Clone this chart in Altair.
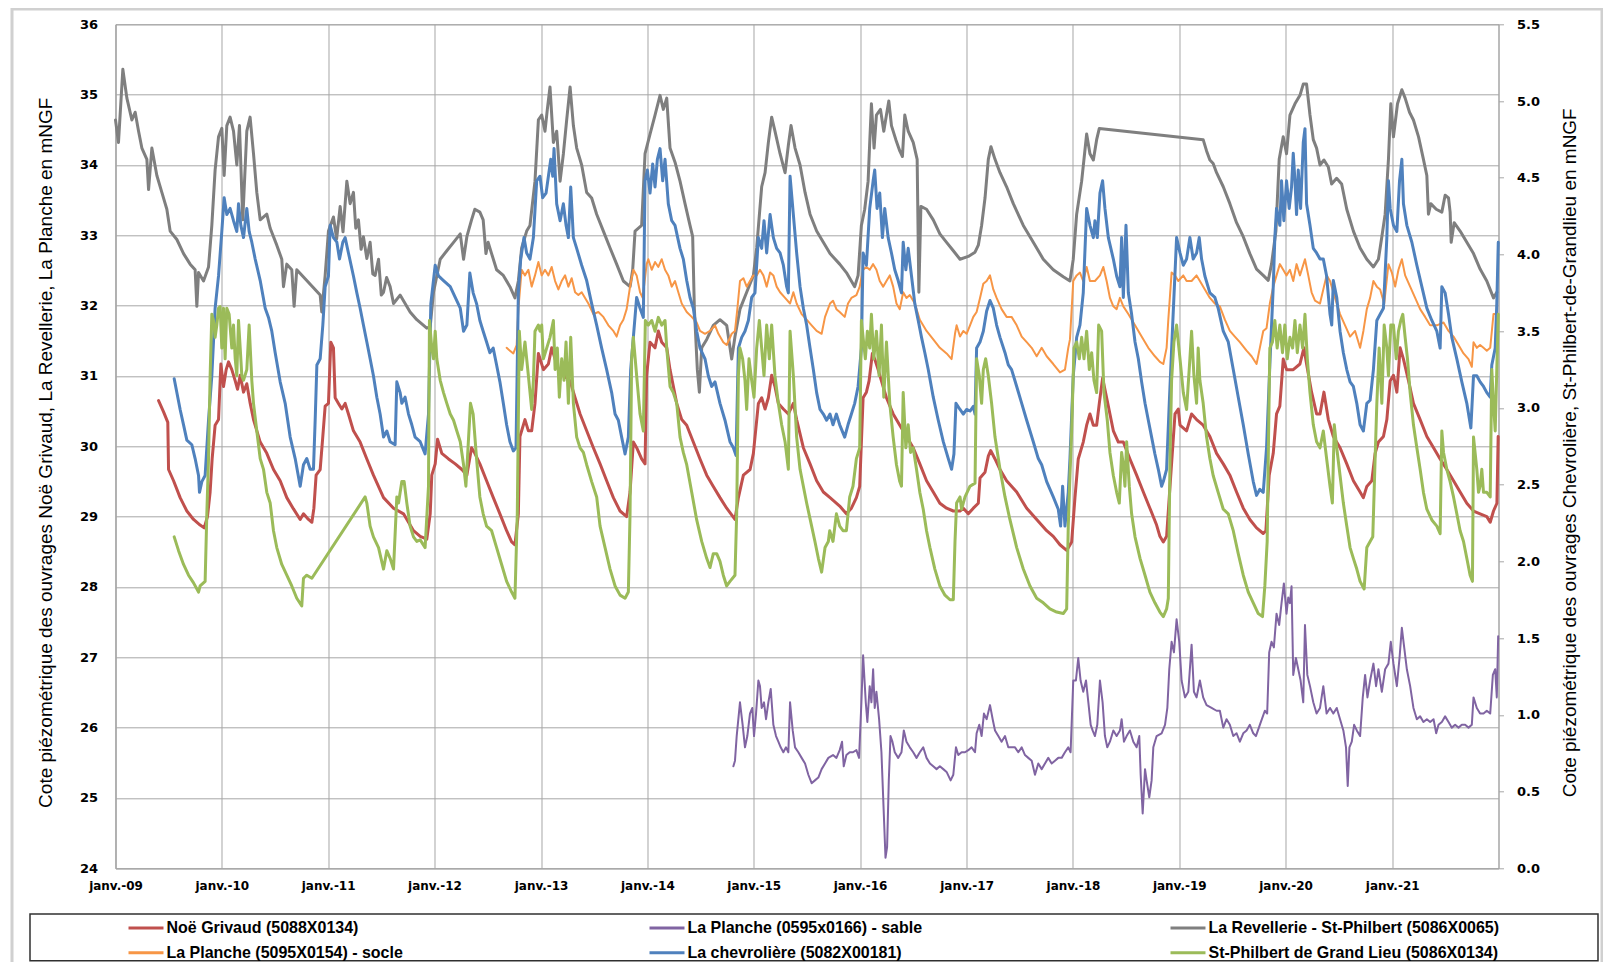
import altair as alt
import pandas as pd
import numpy as np

# ---------------- data (decimal year, level) ----------------
NAMES = ["Noë Grivaud (5088X0134)", "La Planche (0595x0166) - sable",
         "La Revellerie - St-Philbert (5086X0065)", "La Planche (5095X0154) - socle",
         "La chevrolière (5082X00181)", "St-Philbert de Grand Lieu (5086X0134)"]
COLORS = ["#C0504D", "#8064A2", "#7F7F7F", "#F79646", "#4F81BD", "#9BBB59"]

LEFT_TITLE = "Cote piézométrique des ouvrages Noë Grivaud, La Revellerie, La Planche en mNGF"
RIGHT_TITLE = "Cote piézométrique des ouvrages Chevrolière, St-Philbert-de-Grandlieu en mNGF"

LEFT_TICKS = list(range(24, 37))
RIGHT_TICKS = [i * 0.5 for i in range(12)]
YEARS = list(range(2009, 2023))

red = [
    (2009.405, 30.65), (2009.452, 30.49), (2009.492, 30.34), (2009.499, 29.67), (2009.546, 29.51),
    (2009.608, 29.27), (2009.671, 29.08), (2009.734, 28.96), (2009.796, 28.88), (2009.834, 28.84),
    (2009.865, 29.00), (2009.890, 29.35), (2009.909, 29.82), (2009.937, 30.30), (2009.969, 30.38),
    (2009.991, 31.17), (2010.016, 30.85), (2010.041, 31.09), (2010.063, 31.20), (2010.094, 31.09),
    (2010.126, 30.93), (2010.148, 30.81), (2010.173, 31.01), (2010.204, 30.77), (2010.235, 30.89),
    (2010.267, 30.61), (2010.298, 30.38), (2010.361, 30.06), (2010.423, 29.90), (2010.486, 29.67),
    (2010.549, 29.51), (2010.611, 29.27), (2010.674, 29.11), (2010.737, 28.96), (2010.768, 29.04),
    (2010.815, 28.96), (2010.847, 28.92), (2010.866, 29.12), (2010.887, 29.59), (2010.925, 29.67),
    (2010.950, 30.14), (2010.972, 30.57), (2011.003, 30.61), (2011.025, 31.48), (2011.050, 31.40),
    (2011.066, 30.69), (2011.097, 30.61), (2011.129, 30.53), (2011.160, 30.61), (2011.191, 30.46),
    (2011.238, 30.22), (2011.301, 30.06), (2011.364, 29.82), (2011.426, 29.59), (2011.521, 29.27),
    (2011.615, 29.12), (2011.709, 29.04), (2011.803, 28.80), (2011.866, 28.72), (2011.928, 28.68),
    (2011.960, 29.04), (2011.975, 29.59), (2012.007, 29.75), (2012.029, 30.10), (2012.069, 29.90),
    (2012.132, 29.82), (2012.195, 29.75), (2012.257, 29.67), (2012.304, 29.59), (2012.348, 29.98),
    (2012.379, 29.90), (2012.426, 29.75), (2012.489, 29.51), (2012.552, 29.27), (2012.614, 29.04),
    (2012.677, 28.80), (2012.724, 28.64), (2012.755, 28.60), (2012.787, 29.04), (2012.802, 30.14),
    (2012.849, 30.38), (2012.881, 30.22), (2012.912, 30.22), (2012.943, 30.61), (2012.975, 31.32),
    (2013.022, 31.09), (2013.069, 31.17), (2013.100, 31.40), (2013.132, 31.24), (2013.163, 31.09),
    (2013.210, 31.01), (2013.273, 30.93), (2013.320, 30.69), (2013.367, 30.46), (2013.429, 30.22),
    (2013.492, 29.98), (2013.555, 29.75), (2013.617, 29.51), (2013.680, 29.27), (2013.743, 29.08),
    (2013.805, 29.00), (2013.837, 29.35), (2013.868, 30.06), (2013.899, 29.98), (2013.946, 29.82),
    (2013.978, 29.75), (2013.993, 31.01), (2014.025, 31.48), (2014.072, 31.40), (2014.103, 31.64),
    (2014.135, 31.48), (2014.182, 31.40), (2014.213, 31.09), (2014.276, 30.61), (2014.323, 30.38),
    (2014.370, 30.30), (2014.432, 30.06), (2014.495, 29.82), (2014.558, 29.59), (2014.620, 29.43),
    (2014.683, 29.27), (2014.746, 29.12), (2014.824, 28.96), (2014.856, 29.27), (2014.903, 29.59),
    (2014.966, 29.67), (2014.997, 29.90), (2015.044, 30.61), (2015.075, 30.69), (2015.107, 30.53),
    (2015.138, 30.69), (2015.169, 31.01), (2015.200, 30.85), (2015.232, 30.61), (2015.279, 30.53),
    (2015.326, 30.46), (2015.373, 30.61), (2015.404, 30.38), (2015.467, 29.98), (2015.530, 29.75),
    (2015.592, 29.51), (2015.655, 29.35), (2015.718, 29.27), (2015.809, 29.15), (2015.872, 29.04),
    (2015.919, 29.12), (2015.966, 29.27), (2015.997, 29.43), (2016.029, 30.69), (2016.060, 30.77),
    (2016.085, 30.93), (2016.116, 31.32), (2016.138, 31.24), (2016.170, 31.09), (2016.201, 30.93),
    (2016.248, 30.69), (2016.311, 30.46), (2016.373, 30.30), (2016.436, 30.14), (2016.499, 29.98),
    (2016.561, 29.75), (2016.624, 29.51), (2016.687, 29.35), (2016.749, 29.19), (2016.812, 29.12),
    (2016.875, 29.08), (2016.938, 29.08), (2016.969, 29.12), (2017.016, 29.04), (2017.063, 29.12),
    (2017.110, 29.19), (2017.126, 29.55), (2017.173, 29.63), (2017.204, 29.86), (2017.226, 29.94),
    (2017.267, 29.82), (2017.314, 29.67), (2017.376, 29.51), (2017.471, 29.35), (2017.565, 29.12),
    (2017.659, 28.96), (2017.753, 28.80), (2017.815, 28.72), (2017.878, 28.60), (2017.941, 28.52),
    (2017.988, 28.64), (2018.019, 29.27), (2018.050, 29.82), (2018.097, 30.06), (2018.129, 30.30),
    (2018.160, 30.46), (2018.192, 30.30), (2018.223, 30.30), (2018.248, 30.61), (2018.279, 30.97),
    (2018.317, 30.69), (2018.348, 30.46), (2018.380, 30.22), (2018.427, 30.06), (2018.474, 30.06),
    (2018.536, 29.82), (2018.599, 29.59), (2018.662, 29.35), (2018.724, 29.12), (2018.787, 28.88),
    (2018.818, 28.72), (2018.850, 28.64), (2018.881, 28.72), (2018.913, 29.43), (2018.960, 30.46),
    (2018.991, 30.53), (2019.007, 30.30), (2019.069, 30.22), (2019.116, 30.46), (2019.163, 30.38),
    (2019.225, 30.30), (2019.288, 30.14), (2019.351, 29.90), (2019.414, 29.75), (2019.476, 29.59),
    (2019.539, 29.35), (2019.602, 29.12), (2019.664, 28.96), (2019.727, 28.84), (2019.790, 28.76),
    (2019.815, 28.80), (2019.846, 29.59), (2019.884, 29.90), (2019.915, 30.46), (2019.946, 30.57),
    (2019.978, 31.24), (2020.009, 31.09), (2020.072, 31.09), (2020.135, 31.17), (2020.172, 31.40),
    (2020.197, 31.17), (2020.244, 30.77), (2020.291, 30.46), (2020.323, 30.46), (2020.360, 30.77),
    (2020.401, 30.38), (2020.448, 30.14), (2020.511, 29.98), (2020.574, 29.75), (2020.636, 29.51),
    (2020.699, 29.35), (2020.730, 29.27), (2020.762, 29.43), (2020.809, 29.51), (2020.840, 29.90),
    (2020.871, 30.06), (2020.918, 30.14), (2020.950, 30.38), (2020.981, 30.93), (2021.012, 31.01),
    (2021.044, 30.77), (2021.075, 31.40), (2021.106, 31.24), (2021.154, 30.93), (2021.200, 30.61),
    (2021.263, 30.38), (2021.326, 30.14), (2021.389, 29.98), (2021.451, 29.82), (2021.514, 29.67),
    (2021.577, 29.51), (2021.639, 29.35), (2021.702, 29.19), (2021.765, 29.08), (2021.827, 29.04),
    (2021.890, 29.00), (2021.922, 28.92), (2021.953, 29.08), (2021.985, 29.19), (2021.997, 30.14),
]

purple = [
    (2014.809, 25.45), (2014.824, 25.53), (2014.840, 25.88), (2014.871, 26.36), (2014.896, 26.04),
    (2014.918, 25.72), (2014.940, 25.88), (2014.965, 26.20), (2014.987, 26.28), (2015.003, 25.88),
    (2015.022, 26.20), (2015.044, 26.67), (2015.059, 26.59), (2015.075, 26.28), (2015.097, 26.36),
    (2015.116, 26.12), (2015.138, 26.36), (2015.160, 26.55), (2015.185, 26.04), (2015.210, 25.88),
    (2015.232, 25.80), (2015.254, 25.72), (2015.279, 25.65), (2015.304, 25.72), (2015.326, 25.65),
    (2015.342, 26.36), (2015.367, 25.96), (2015.389, 25.72), (2015.420, 25.65), (2015.451, 25.57),
    (2015.483, 25.49), (2015.514, 25.33), (2015.545, 25.21), (2015.576, 25.25), (2015.608, 25.29),
    (2015.639, 25.41), (2015.671, 25.49), (2015.702, 25.57), (2015.746, 25.61), (2015.778, 25.57),
    (2015.809, 25.68), (2015.831, 25.80), (2015.847, 25.45), (2015.872, 25.61), (2015.903, 25.65),
    (2015.934, 25.65), (2015.966, 25.68), (2015.991, 25.57), (2016.013, 26.36), (2016.029, 27.03),
    (2016.054, 26.36), (2016.069, 26.08), (2016.091, 26.59), (2016.107, 26.36), (2016.123, 26.83),
    (2016.138, 26.28), (2016.154, 26.51), (2016.179, 26.12), (2016.201, 25.65), (2016.223, 24.78),
    (2016.239, 24.15), (2016.254, 24.30), (2016.270, 25.25), (2016.286, 25.88), (2016.304, 25.80),
    (2016.326, 25.65), (2016.358, 25.57), (2016.389, 25.65), (2016.411, 25.96), (2016.436, 25.80),
    (2016.467, 25.72), (2016.499, 25.65), (2016.530, 25.57), (2016.561, 25.65), (2016.593, 25.72),
    (2016.624, 25.57), (2016.656, 25.49), (2016.687, 25.45), (2016.718, 25.41), (2016.749, 25.45),
    (2016.781, 25.41), (2016.812, 25.37), (2016.850, 25.25), (2016.875, 25.33), (2016.900, 25.72),
    (2016.922, 25.61), (2016.953, 25.65), (2016.985, 25.65), (2017.016, 25.68), (2017.047, 25.72),
    (2017.079, 25.65), (2017.094, 25.92), (2017.119, 26.04), (2017.141, 25.88), (2017.163, 26.20),
    (2017.188, 26.12), (2017.220, 26.32), (2017.245, 26.12), (2017.267, 25.96), (2017.298, 25.88),
    (2017.329, 25.80), (2017.361, 25.88), (2017.392, 25.72), (2017.423, 25.72), (2017.455, 25.72),
    (2017.486, 25.65), (2017.518, 25.72), (2017.549, 25.61), (2017.580, 25.57), (2017.612, 25.53),
    (2017.643, 25.33), (2017.674, 25.49), (2017.706, 25.41), (2017.737, 25.49), (2017.768, 25.57),
    (2017.800, 25.49), (2017.831, 25.53), (2017.862, 25.57), (2017.894, 25.57), (2017.925, 25.65),
    (2017.956, 25.72), (2017.978, 25.65), (2018.003, 26.67), (2018.028, 26.67), (2018.050, 26.99),
    (2018.072, 26.67), (2018.097, 26.51), (2018.123, 26.67), (2018.145, 26.36), (2018.167, 26.04),
    (2018.185, 25.96), (2018.207, 25.88), (2018.229, 26.04), (2018.254, 26.67), (2018.279, 26.36),
    (2018.301, 25.88), (2018.323, 25.72), (2018.348, 25.80), (2018.380, 25.96), (2018.411, 25.88),
    (2018.442, 25.96), (2018.458, 26.12), (2018.480, 25.80), (2018.505, 25.88), (2018.536, 25.96),
    (2018.568, 25.80), (2018.599, 25.72), (2018.624, 25.88), (2018.637, 25.33), (2018.656, 24.78),
    (2018.678, 25.41), (2018.693, 25.25), (2018.718, 25.01), (2018.740, 25.25), (2018.756, 25.72),
    (2018.787, 25.88), (2018.834, 25.92), (2018.866, 26.04), (2018.888, 26.28), (2018.906, 26.83),
    (2018.928, 27.22), (2018.950, 27.07), (2018.975, 27.54), (2019.000, 27.22), (2019.022, 26.67),
    (2019.054, 26.43), (2019.085, 26.51), (2019.116, 27.18), (2019.138, 26.51), (2019.163, 26.43),
    (2019.194, 26.67), (2019.225, 26.43), (2019.257, 26.32), (2019.304, 26.28), (2019.351, 26.24),
    (2019.382, 26.24), (2019.414, 26.00), (2019.445, 26.12), (2019.476, 26.04), (2019.508, 25.88),
    (2019.539, 25.92), (2019.570, 25.80), (2019.602, 25.92), (2019.633, 25.96), (2019.664, 26.04),
    (2019.696, 25.92), (2019.721, 25.88), (2019.758, 26.04), (2019.805, 26.24), (2019.827, 26.20),
    (2019.846, 27.07), (2019.868, 27.22), (2019.890, 27.14), (2019.915, 27.62), (2019.940, 27.46),
    (2019.962, 27.77), (2019.984, 28.05), (2020.009, 27.62), (2020.025, 27.85), (2020.041, 27.77),
    (2020.056, 28.01), (2020.072, 26.75), (2020.097, 26.99), (2020.119, 26.83), (2020.141, 26.67),
    (2020.166, 26.36), (2020.182, 27.46), (2020.204, 26.75), (2020.229, 26.59), (2020.260, 26.36),
    (2020.291, 26.20), (2020.323, 26.28), (2020.354, 26.59), (2020.385, 26.20), (2020.417, 26.28),
    (2020.448, 26.20), (2020.480, 26.28), (2020.511, 26.12), (2020.542, 25.96), (2020.567, 25.72),
    (2020.583, 25.17), (2020.599, 25.72), (2020.621, 25.80), (2020.643, 26.04), (2020.668, 25.96),
    (2020.699, 25.88), (2020.724, 26.43), (2020.746, 26.75), (2020.768, 26.43), (2020.793, 26.67),
    (2020.824, 26.91), (2020.849, 26.59), (2020.871, 26.83), (2020.903, 26.51), (2020.934, 26.83),
    (2020.965, 26.91), (2020.987, 27.22), (2021.012, 26.91), (2021.044, 26.59), (2021.069, 26.99),
    (2021.091, 27.42), (2021.113, 27.14), (2021.138, 26.83), (2021.169, 26.59), (2021.200, 26.28),
    (2021.232, 26.12), (2021.263, 26.16), (2021.294, 26.08), (2021.326, 26.12), (2021.357, 26.08),
    (2021.389, 26.12), (2021.414, 25.92), (2021.436, 26.04), (2021.467, 26.08), (2021.498, 26.16),
    (2021.530, 26.08), (2021.561, 26.00), (2021.592, 26.04), (2021.624, 26.00), (2021.655, 26.04),
    (2021.686, 26.04), (2021.718, 26.00), (2021.749, 26.04), (2021.765, 26.43), (2021.796, 26.28),
    (2021.827, 26.20), (2021.859, 26.20), (2021.890, 26.24), (2021.922, 26.20), (2021.947, 26.75),
    (2021.969, 26.83), (2021.984, 26.43), (2021.997, 27.30),
]

gray = [
    (2009.000, 34.64), (2009.028, 34.32), (2009.069, 35.36), (2009.107, 34.95), (2009.154, 34.64),
    (2009.185, 34.75), (2009.217, 34.48), (2009.248, 34.24), (2009.295, 34.08), (2009.311, 33.65),
    (2009.342, 34.24), (2009.389, 33.85), (2009.436, 33.61), (2009.483, 33.37), (2009.514, 33.06),
    (2009.577, 32.94), (2009.640, 32.74), (2009.702, 32.59), (2009.749, 32.51), (2009.765, 31.99),
    (2009.781, 32.47), (2009.828, 32.35), (2009.875, 32.55), (2009.906, 33.14), (2009.937, 33.93),
    (2009.969, 34.40), (2010.000, 34.52), (2010.022, 33.85), (2010.047, 34.56), (2010.078, 34.68),
    (2010.110, 34.48), (2010.141, 34.00), (2010.166, 34.56), (2010.197, 33.22), (2010.235, 34.48),
    (2010.266, 34.68), (2010.298, 34.16), (2010.329, 33.61), (2010.361, 33.22), (2010.423, 33.30),
    (2010.455, 33.10), (2010.517, 32.86), (2010.564, 32.66), (2010.580, 32.27), (2010.611, 32.59),
    (2010.658, 32.51), (2010.680, 31.99), (2010.705, 32.51), (2010.925, 32.15), (2010.940, 31.91),
    (2010.972, 32.43), (2011.003, 33.06), (2011.050, 33.26), (2011.080, 32.95), (2011.113, 33.41),
    (2011.140, 33.05), (2011.176, 33.77), (2011.207, 33.45), (2011.238, 33.61), (2011.260, 33.10),
    (2011.285, 33.22), (2011.310, 32.80), (2011.332, 32.98), (2011.364, 32.67), (2011.395, 32.90),
    (2011.420, 32.45), (2011.442, 32.43), (2011.474, 32.66), (2011.500, 32.15), (2011.521, 32.19),
    (2011.550, 32.40), (2011.583, 32.27), (2011.615, 32.03), (2011.677, 32.15), (2011.771, 31.91),
    (2011.834, 31.80), (2011.928, 31.68), (2011.960, 31.70), (2011.991, 32.19), (2012.054, 32.66),
    (2012.116, 32.78), (2012.179, 32.90), (2012.242, 33.02), (2012.273, 32.66), (2012.304, 32.98),
    (2012.348, 33.22), (2012.379, 33.37), (2012.426, 33.33), (2012.457, 33.22), (2012.483, 32.74),
    (2012.504, 32.90), (2012.536, 32.74), (2012.583, 32.51), (2012.646, 32.43), (2012.708, 32.27),
    (2012.755, 32.11), (2012.787, 32.35), (2012.818, 32.82), (2012.865, 33.06), (2012.896, 33.14),
    (2012.943, 33.77), (2012.975, 34.64), (2013.006, 34.71), (2013.037, 34.48), (2013.059, 34.79),
    (2013.084, 35.11), (2013.116, 34.32), (2013.147, 34.48), (2013.179, 33.77), (2013.210, 34.16),
    (2013.241, 34.64), (2013.273, 35.11), (2013.304, 34.56), (2013.335, 34.24), (2013.382, 34.00),
    (2013.429, 33.61), (2013.476, 33.53), (2013.523, 33.30), (2013.586, 33.06), (2013.649, 32.82),
    (2013.711, 32.59), (2013.774, 32.35), (2013.837, 32.27), (2013.862, 32.51), (2013.884, 33.06),
    (2013.946, 33.14), (2013.978, 34.16), (2014.025, 34.44), (2014.072, 34.71), (2014.119, 34.99),
    (2014.150, 34.79), (2014.182, 34.95), (2014.213, 34.24), (2014.260, 34.04), (2014.307, 33.77),
    (2014.354, 33.45), (2014.401, 33.14), (2014.426, 32.98), (2014.442, 31.95), (2014.470, 31.09),
    (2014.489, 30.77), (2014.511, 31.40), (2014.558, 31.52), (2014.620, 31.72), (2014.683, 31.80),
    (2014.746, 31.72), (2014.793, 31.24), (2014.824, 31.56), (2014.871, 31.95), (2014.934, 32.19),
    (2014.997, 32.43), (2015.028, 32.82), (2015.075, 33.69), (2015.107, 33.89), (2015.138, 34.32),
    (2015.169, 34.68), (2015.200, 34.48), (2015.248, 34.16), (2015.295, 33.89), (2015.326, 34.28),
    (2015.351, 34.56), (2015.389, 34.24), (2015.436, 34.00), (2015.483, 33.61), (2015.530, 33.30),
    (2015.592, 33.06), (2015.655, 32.90), (2015.718, 32.74), (2015.809, 32.59), (2015.872, 32.47),
    (2015.950, 32.27), (2015.982, 32.43), (2016.013, 33.14), (2016.044, 33.37), (2016.076, 33.77),
    (2016.091, 34.32), (2016.107, 34.87), (2016.132, 34.24), (2016.154, 34.71), (2016.192, 34.79),
    (2016.223, 34.48), (2016.248, 34.71), (2016.270, 34.91), (2016.295, 34.56), (2016.336, 34.36),
    (2016.373, 34.20), (2016.398, 34.12), (2016.420, 34.71), (2016.452, 34.48), (2016.499, 34.32),
    (2016.536, 34.08), (2016.552, 32.19), (2016.571, 33.41), (2016.624, 33.37), (2016.687, 33.22),
    (2016.749, 33.02), (2016.812, 32.90), (2016.875, 32.78), (2016.938, 32.66), (2017.016, 32.70),
    (2017.079, 32.76), (2017.110, 32.86), (2017.141, 33.14), (2017.173, 33.53), (2017.204, 34.08),
    (2017.229, 34.26), (2017.267, 34.08), (2017.314, 33.89), (2017.376, 33.69), (2017.439, 33.45),
    (2017.533, 33.14), (2017.627, 32.90), (2017.721, 32.66), (2017.815, 32.51), (2017.909, 32.41),
    (2017.972, 32.35), (2018.003, 32.66), (2018.035, 33.30), (2018.082, 33.77), (2018.129, 34.44),
    (2018.160, 34.16), (2018.192, 34.07), (2018.223, 34.36), (2018.248, 34.52), (2019.225, 34.36),
    (2019.257, 34.20), (2019.288, 34.07), (2019.319, 34.02), (2019.351, 33.89), (2019.414, 33.69),
    (2019.476, 33.45), (2019.539, 33.18), (2019.602, 32.98), (2019.664, 32.74), (2019.727, 32.52),
    (2019.790, 32.43), (2019.837, 32.36), (2019.868, 32.59), (2019.909, 33.06), (2019.940, 34.08),
    (2019.978, 34.40), (2020.009, 34.16), (2020.041, 34.71), (2020.088, 34.87), (2020.135, 34.99),
    (2020.166, 35.15), (2020.197, 35.15), (2020.229, 34.71), (2020.260, 34.36), (2020.291, 34.24),
    (2020.323, 34.00), (2020.360, 34.07), (2020.401, 33.97), (2020.432, 33.73), (2020.479, 33.81),
    (2020.526, 33.73), (2020.574, 33.37), (2020.636, 33.06), (2020.699, 32.82), (2020.762, 32.66),
    (2020.824, 32.55), (2020.871, 32.66), (2020.903, 32.98), (2020.934, 33.30), (2020.965, 34.08),
    (2020.987, 34.87), (2021.012, 34.40), (2021.050, 34.87), (2021.091, 35.07), (2021.122, 34.95),
    (2021.163, 34.75), (2021.200, 34.64), (2021.248, 34.40), (2021.294, 34.08), (2021.326, 33.85),
    (2021.341, 33.30), (2021.363, 33.45), (2021.414, 33.37), (2021.467, 33.33), (2021.498, 33.57),
    (2021.530, 33.53), (2021.545, 33.33), (2021.555, 32.90), (2021.583, 33.18), (2021.639, 33.06),
    (2021.702, 32.90), (2021.765, 32.74), (2021.827, 32.52), (2021.890, 32.35), (2021.953, 32.11),
    (2021.984, 32.19),
]

orange = [
    (2012.677, 31.40), (2012.708, 31.36), (2012.740, 31.32), (2012.771, 31.44), (2012.787, 31.95),
    (2012.818, 32.51), (2012.849, 32.43), (2012.881, 32.51), (2012.912, 32.27), (2012.943, 32.43),
    (2012.975, 32.62), (2013.006, 32.43), (2013.037, 32.51), (2013.069, 32.43), (2013.100, 32.55),
    (2013.132, 32.35), (2013.163, 32.23), (2013.194, 32.35), (2013.226, 32.43), (2013.257, 32.27),
    (2013.288, 32.39), (2013.320, 32.19), (2013.351, 32.15), (2013.382, 32.19), (2013.414, 32.11),
    (2013.445, 32.03), (2013.492, 31.88), (2013.539, 31.91), (2013.586, 31.84), (2013.633, 31.72),
    (2013.680, 31.64), (2013.711, 31.56), (2013.743, 31.72), (2013.774, 31.80), (2013.805, 31.95),
    (2013.837, 32.27), (2013.868, 32.51), (2013.899, 32.43), (2013.931, 32.19), (2013.956, 32.11),
    (2013.993, 32.59), (2014.009, 32.66), (2014.041, 32.51), (2014.072, 32.62), (2014.103, 32.55),
    (2014.135, 32.66), (2014.166, 32.51), (2014.197, 32.43), (2014.229, 32.27), (2014.260, 32.35),
    (2014.291, 32.19), (2014.323, 32.03), (2014.370, 31.91), (2014.417, 31.84), (2014.464, 31.76),
    (2014.495, 31.64), (2014.542, 31.60), (2014.589, 31.64), (2014.636, 31.72), (2014.668, 31.60),
    (2014.714, 31.48), (2014.746, 31.44), (2014.793, 31.60), (2014.824, 31.64), (2014.846, 31.95),
    (2014.871, 32.35), (2014.903, 32.39), (2014.934, 32.27), (2014.965, 32.35), (2014.997, 32.43),
    (2015.028, 32.43), (2015.059, 32.51), (2015.091, 32.43), (2015.122, 32.27), (2015.154, 32.47),
    (2015.185, 32.43), (2015.216, 32.27), (2015.248, 32.19), (2015.295, 32.11), (2015.342, 32.03),
    (2015.373, 32.19), (2015.404, 32.03), (2015.451, 31.88), (2015.498, 31.80), (2015.545, 31.72),
    (2015.592, 31.64), (2015.639, 31.60), (2015.671, 31.84), (2015.718, 32.03), (2015.746, 32.07),
    (2015.778, 31.95), (2015.809, 31.91), (2015.856, 31.84), (2015.887, 32.03), (2015.919, 32.11),
    (2015.966, 32.15), (2015.997, 32.27), (2016.029, 32.51), (2016.060, 32.55), (2016.091, 32.51),
    (2016.123, 32.59), (2016.154, 32.51), (2016.185, 32.35), (2016.217, 32.27), (2016.248, 32.35),
    (2016.279, 32.43), (2016.311, 32.27), (2016.342, 32.03), (2016.373, 31.95), (2016.405, 32.19),
    (2016.436, 32.11), (2016.467, 32.15), (2016.514, 32.03), (2016.561, 31.80), (2016.624, 31.64),
    (2016.687, 31.52), (2016.749, 31.40), (2016.812, 31.32), (2016.859, 31.24), (2016.891, 31.60),
    (2016.906, 31.72), (2016.938, 31.56), (2016.969, 31.64), (2017.000, 31.60), (2017.032, 31.72),
    (2017.063, 31.84), (2017.094, 31.91), (2017.126, 32.11), (2017.157, 32.31), (2017.188, 32.35),
    (2017.220, 32.43), (2017.251, 32.23), (2017.282, 32.11), (2017.329, 31.95), (2017.376, 31.84),
    (2017.423, 31.84), (2017.471, 31.72), (2017.518, 31.56), (2017.565, 31.48), (2017.612, 31.40),
    (2017.659, 31.28), (2017.706, 31.40), (2017.753, 31.28), (2017.815, 31.17), (2017.878, 31.05),
    (2017.925, 31.09), (2017.956, 31.40), (2017.972, 31.52), (2018.003, 32.35), (2018.035, 32.43),
    (2018.066, 32.47), (2018.097, 32.35), (2018.129, 32.55), (2018.160, 32.35), (2018.207, 32.35),
    (2018.254, 32.43), (2018.286, 32.55), (2018.317, 32.35), (2018.348, 32.11), (2018.380, 31.99),
    (2018.411, 31.95), (2018.442, 32.11), (2018.474, 31.99), (2018.521, 31.88), (2018.584, 31.72),
    (2018.646, 31.56), (2018.709, 31.40), (2018.771, 31.28), (2018.818, 31.20), (2018.850, 31.17),
    (2018.881, 31.40), (2018.897, 31.80), (2018.928, 32.47), (2018.960, 32.43), (2018.991, 32.35),
    (2019.038, 32.43), (2019.069, 32.35), (2019.116, 32.35), (2019.163, 32.43), (2019.194, 32.35),
    (2019.241, 32.23), (2019.288, 32.11), (2019.335, 32.03), (2019.382, 31.99), (2019.429, 31.80),
    (2019.476, 31.64), (2019.523, 31.56), (2019.570, 31.48), (2019.633, 31.36), (2019.680, 31.28),
    (2019.727, 31.17), (2019.758, 31.40), (2019.790, 31.64), (2019.821, 31.68), (2019.852, 32.03),
    (2019.884, 32.27), (2019.915, 32.43), (2019.946, 32.59), (2019.978, 32.51), (2020.009, 32.43),
    (2020.041, 32.51), (2020.072, 32.35), (2020.103, 32.59), (2020.135, 32.43), (2020.182, 32.66),
    (2020.213, 32.43), (2020.244, 32.19), (2020.276, 32.07), (2020.323, 32.03), (2020.360, 32.27),
    (2020.385, 32.43), (2020.417, 32.35), (2020.464, 32.11), (2020.511, 31.88), (2020.558, 31.72),
    (2020.605, 31.56), (2020.652, 31.64), (2020.699, 31.40), (2020.730, 31.64), (2020.762, 31.95),
    (2020.793, 32.11), (2020.824, 32.35), (2020.856, 32.27), (2020.887, 32.23), (2020.925, 32.03),
    (2020.965, 32.59), (2020.997, 32.47), (2021.028, 32.27), (2021.059, 32.51), (2021.091, 32.66),
    (2021.122, 32.43), (2021.169, 32.27), (2021.216, 32.11), (2021.263, 31.95), (2021.310, 31.84),
    (2021.357, 31.72), (2021.420, 31.72), (2021.483, 31.76), (2021.530, 31.64), (2021.577, 31.56),
    (2021.624, 31.44), (2021.671, 31.32), (2021.718, 31.24), (2021.749, 31.13), (2021.765, 31.48),
    (2021.796, 31.40), (2021.827, 31.44), (2021.859, 31.40), (2021.890, 31.36), (2021.922, 31.40),
    (2021.953, 31.88), (2021.984, 31.88),
]

blue = [
    (2009.552, 3.19), (2009.577, 3.10), (2009.608, 2.99), (2009.640, 2.89), (2009.671, 2.79),
    (2009.718, 2.76), (2009.749, 2.67), (2009.781, 2.56), (2009.790, 2.45), (2009.812, 2.52),
    (2009.843, 2.56), (2009.875, 2.92), (2009.906, 3.21), (2009.937, 3.65), (2009.969, 3.86),
    (2010.000, 4.15), (2010.022, 4.37), (2010.047, 4.26), (2010.078, 4.30), (2010.110, 4.22),
    (2010.141, 4.15), (2010.157, 4.33), (2010.179, 4.19), (2010.204, 4.11), (2010.235, 4.30),
    (2010.257, 4.15), (2010.282, 4.08), (2010.314, 3.97), (2010.361, 3.83), (2010.408, 3.65),
    (2010.439, 3.59), (2010.470, 3.50), (2010.502, 3.36), (2010.549, 3.17), (2010.596, 3.03),
    (2010.643, 2.81), (2010.690, 2.67), (2010.737, 2.49), (2010.768, 2.63), (2010.799, 2.67),
    (2010.831, 2.60), (2010.862, 2.60), (2010.878, 2.92), (2010.894, 3.28), (2010.925, 3.32),
    (2010.950, 3.54), (2010.972, 3.79), (2011.003, 3.86), (2011.019, 4.19), (2011.050, 4.11),
    (2011.082, 4.08), (2011.107, 3.97), (2011.138, 4.08), (2011.160, 4.11), (2011.191, 4.01),
    (2011.238, 3.86), (2011.270, 3.75), (2011.301, 3.65), (2011.332, 3.54), (2011.364, 3.43),
    (2011.395, 3.32), (2011.426, 3.21), (2011.458, 3.07), (2011.489, 2.96), (2011.521, 2.81),
    (2011.552, 2.85), (2011.583, 2.78), (2011.630, 2.76), (2011.646, 3.17), (2011.677, 3.10),
    (2011.693, 3.03), (2011.724, 3.07), (2011.756, 2.96), (2011.787, 2.89), (2011.818, 2.81),
    (2011.866, 2.78), (2011.912, 2.70), (2011.944, 2.96), (2011.966, 3.68), (2012.007, 3.93),
    (2012.038, 3.86), (2012.085, 3.83), (2012.148, 3.79), (2012.195, 3.72), (2012.242, 3.65),
    (2012.273, 3.50), (2012.304, 3.54), (2012.332, 3.88), (2012.363, 3.75), (2012.395, 3.68),
    (2012.426, 3.57), (2012.457, 3.50), (2012.489, 3.43), (2012.520, 3.36), (2012.551, 3.39),
    (2012.583, 3.28), (2012.614, 3.17), (2012.646, 3.03), (2012.677, 2.89), (2012.708, 2.78),
    (2012.740, 2.72), (2012.765, 2.74), (2012.787, 3.75), (2012.809, 3.97), (2012.840, 4.11),
    (2012.865, 4.01), (2012.896, 3.97), (2012.928, 4.11), (2012.959, 4.48), (2012.990, 4.51),
    (2013.015, 4.37), (2013.047, 4.40), (2013.069, 4.51), (2013.091, 4.62), (2013.110, 4.51),
    (2013.122, 4.69), (2013.147, 4.33), (2013.179, 4.22), (2013.210, 4.33), (2013.235, 4.19),
    (2013.257, 4.11), (2013.279, 4.44), (2013.304, 4.11), (2013.335, 4.04), (2013.382, 3.93),
    (2013.429, 3.83), (2013.476, 3.68), (2013.523, 3.54), (2013.570, 3.39), (2013.617, 3.25),
    (2013.664, 3.10), (2013.696, 2.96), (2013.727, 2.92), (2013.758, 2.81), (2013.790, 2.70),
    (2013.821, 2.81), (2013.843, 3.25), (2013.868, 3.46), (2013.899, 3.72), (2013.931, 3.65),
    (2013.962, 3.59), (2013.978, 4.48), (2014.000, 4.55), (2014.025, 4.40), (2014.050, 4.59),
    (2014.072, 4.44), (2014.094, 4.62), (2014.119, 4.69), (2014.144, 4.48), (2014.166, 4.62),
    (2014.197, 4.33), (2014.229, 4.22), (2014.260, 4.19), (2014.307, 4.04), (2014.338, 3.97),
    (2014.370, 3.83), (2014.401, 3.72), (2014.432, 3.65), (2014.464, 3.50), (2014.495, 3.39),
    (2014.542, 3.32), (2014.573, 3.21), (2014.605, 3.14), (2014.636, 3.17), (2014.683, 3.03),
    (2014.730, 2.92), (2014.777, 2.78), (2014.809, 2.74), (2014.834, 2.69), (2014.856, 3.39),
    (2014.887, 3.46), (2014.918, 3.50), (2014.950, 3.57), (2014.981, 3.72), (2015.012, 3.75),
    (2015.044, 4.11), (2015.075, 4.04), (2015.097, 4.22), (2015.122, 4.01), (2015.154, 4.26),
    (2015.185, 4.11), (2015.216, 4.04), (2015.248, 4.01), (2015.279, 3.93), (2015.310, 3.79),
    (2015.326, 3.75), (2015.342, 4.51), (2015.373, 4.26), (2015.404, 4.01), (2015.436, 3.79),
    (2015.467, 3.65), (2015.498, 3.54), (2015.530, 3.39), (2015.561, 3.25), (2015.592, 3.10),
    (2015.624, 2.99), (2015.655, 2.96), (2015.686, 2.92), (2015.718, 2.96), (2015.746, 2.89),
    (2015.778, 2.96), (2015.809, 2.89), (2015.856, 2.81), (2015.887, 2.89), (2015.919, 2.96),
    (2015.950, 3.03), (2015.982, 3.14), (2016.013, 3.39), (2016.029, 4.01), (2016.060, 3.93),
    (2016.091, 4.30), (2016.123, 4.48), (2016.138, 4.55), (2016.160, 4.30), (2016.185, 4.40),
    (2016.210, 4.11), (2016.232, 4.30), (2016.264, 4.11), (2016.295, 4.01), (2016.326, 3.90),
    (2016.358, 3.83), (2016.389, 3.75), (2016.405, 4.08), (2016.430, 3.90), (2016.452, 4.04),
    (2016.483, 3.86), (2016.514, 3.68), (2016.546, 3.57), (2016.577, 3.46), (2016.608, 3.36),
    (2016.640, 3.25), (2016.687, 3.07), (2016.734, 2.92), (2016.781, 2.78), (2016.828, 2.67),
    (2016.859, 2.60), (2016.881, 2.70), (2016.900, 3.03), (2016.938, 2.99), (2016.969, 2.96),
    (2017.000, 2.99), (2017.032, 2.98), (2017.063, 3.01), (2017.079, 2.96), (2017.094, 3.39),
    (2017.126, 3.43), (2017.157, 3.50), (2017.188, 3.63), (2017.220, 3.70), (2017.251, 3.65),
    (2017.282, 3.54), (2017.314, 3.46), (2017.361, 3.36), (2017.392, 3.28), (2017.423, 3.25),
    (2017.471, 3.14), (2017.518, 3.03), (2017.565, 2.92), (2017.627, 2.78), (2017.674, 2.67),
    (2017.706, 2.63), (2017.753, 2.52), (2017.815, 2.42), (2017.862, 2.34), (2017.884, 2.23),
    (2017.903, 2.49), (2017.925, 2.23), (2017.956, 2.45), (2017.972, 2.67), (2018.003, 3.21),
    (2018.035, 3.46), (2018.066, 3.54), (2018.097, 3.75), (2018.129, 4.30), (2018.160, 4.19),
    (2018.192, 4.11), (2018.207, 4.22), (2018.229, 4.11), (2018.254, 4.40), (2018.279, 4.48),
    (2018.301, 4.30), (2018.333, 4.11), (2018.380, 3.97), (2018.411, 3.86), (2018.442, 3.79),
    (2018.458, 4.11), (2018.474, 3.72), (2018.499, 4.19), (2018.521, 3.75), (2018.552, 3.61),
    (2018.584, 3.43), (2018.615, 3.32), (2018.646, 3.17), (2018.678, 3.03), (2018.709, 2.92),
    (2018.740, 2.81), (2018.771, 2.70), (2018.803, 2.60), (2018.834, 2.49), (2018.850, 2.52),
    (2018.881, 2.60), (2018.906, 3.03), (2018.938, 3.54), (2018.975, 4.11), (2019.007, 4.01),
    (2019.038, 3.93), (2019.069, 3.97), (2019.100, 4.11), (2019.131, 3.97), (2019.163, 4.01),
    (2019.188, 4.11), (2019.210, 3.97), (2019.241, 3.86), (2019.288, 3.75), (2019.335, 3.72),
    (2019.366, 3.65), (2019.414, 3.50), (2019.461, 3.43), (2019.508, 3.25), (2019.555, 3.07),
    (2019.602, 2.89), (2019.649, 2.70), (2019.696, 2.52), (2019.727, 2.43), (2019.758, 2.47),
    (2019.790, 2.45), (2019.821, 2.74), (2019.852, 3.28), (2019.884, 3.79), (2019.899, 4.11),
    (2019.915, 4.30), (2019.946, 4.19), (2019.962, 4.48), (2019.984, 4.22), (2020.009, 4.48),
    (2020.034, 4.30), (2020.056, 4.44), (2020.072, 4.66), (2020.088, 4.48), (2020.103, 4.26),
    (2020.119, 4.55), (2020.141, 4.30), (2020.166, 4.73), (2020.182, 4.82), (2020.197, 4.33),
    (2020.229, 4.19), (2020.260, 4.04), (2020.291, 4.01), (2020.323, 3.97), (2020.354, 3.97),
    (2020.385, 3.86), (2020.417, 3.61), (2020.433, 3.54), (2020.448, 3.83), (2020.480, 3.72),
    (2020.511, 3.50), (2020.542, 3.36), (2020.574, 3.25), (2020.605, 3.17), (2020.636, 3.14),
    (2020.668, 3.03), (2020.699, 2.89), (2020.730, 2.85), (2020.762, 3.03), (2020.793, 3.05),
    (2020.824, 3.25), (2020.856, 3.57), (2020.887, 3.61), (2020.918, 3.65), (2020.950, 4.11),
    (2020.965, 4.48), (2020.981, 4.30), (2021.012, 4.19), (2021.044, 4.15), (2021.069, 4.48),
    (2021.091, 4.62), (2021.106, 4.33), (2021.138, 4.19), (2021.185, 4.08), (2021.232, 3.93),
    (2021.279, 3.79), (2021.326, 3.65), (2021.373, 3.57), (2021.420, 3.50), (2021.451, 3.39),
    (2021.467, 3.79), (2021.498, 3.75), (2021.530, 3.61), (2021.561, 3.46), (2021.608, 3.32),
    (2021.655, 3.17), (2021.702, 3.03), (2021.740, 2.87), (2021.765, 3.21), (2021.796, 3.21),
    (2021.827, 3.17), (2021.859, 3.14), (2021.890, 3.10), (2021.922, 3.07), (2021.937, 3.28),
    (2021.969, 3.39), (2021.984, 3.68), (2021.998, 4.08),
]

green = [
    (2009.552, 2.16), (2009.593, 2.07), (2009.640, 1.98), (2009.687, 1.91), (2009.734, 1.86),
    (2009.781, 1.80), (2009.796, 1.84), (2009.843, 1.87), (2009.859, 2.31), (2009.875, 2.67),
    (2009.890, 3.21), (2009.906, 3.61), (2009.922, 3.57), (2009.937, 3.46), (2009.953, 3.54),
    (2009.969, 3.65), (2009.984, 3.66), (2010.000, 3.39), (2010.016, 3.65), (2010.031, 3.32),
    (2010.047, 3.65), (2010.069, 3.61), (2010.094, 3.39), (2010.110, 3.54), (2010.126, 3.32),
    (2010.141, 3.21), (2010.157, 3.57), (2010.173, 3.39), (2010.188, 3.21), (2010.204, 3.18),
    (2010.235, 3.25), (2010.257, 3.54), (2010.282, 3.18), (2010.298, 3.03), (2010.329, 2.85),
    (2010.361, 2.67), (2010.392, 2.60), (2010.423, 2.45), (2010.455, 2.38), (2010.486, 2.20),
    (2010.517, 2.09), (2010.564, 1.98), (2010.611, 1.91), (2010.658, 1.84), (2010.705, 1.76),
    (2010.752, 1.71), (2010.768, 1.89), (2010.799, 1.91), (2010.847, 1.89), (2011.348, 2.42),
    (2011.364, 2.38), (2011.395, 2.23), (2011.426, 2.16), (2011.474, 2.09), (2011.521, 1.95),
    (2011.552, 2.07), (2011.583, 2.02), (2011.615, 1.95), (2011.646, 2.42), (2011.662, 2.38),
    (2011.693, 2.52), (2011.715, 2.52), (2011.740, 2.38), (2011.771, 2.23), (2011.803, 2.16),
    (2011.834, 2.13), (2011.866, 2.14), (2011.912, 2.09), (2011.944, 2.49), (2011.953, 3.57),
    (2011.975, 3.39), (2011.991, 3.32), (2012.007, 3.50), (2012.022, 3.32), (2012.054, 3.18),
    (2012.085, 3.10), (2012.116, 3.03), (2012.148, 2.96), (2012.179, 2.92), (2012.210, 2.85),
    (2012.242, 2.78), (2012.273, 2.63), (2012.295, 2.49), (2012.338, 3.03), (2012.363, 2.96),
    (2012.395, 2.67), (2012.426, 2.42), (2012.457, 2.31), (2012.489, 2.23), (2012.536, 2.20),
    (2012.583, 2.09), (2012.630, 1.98), (2012.677, 1.87), (2012.724, 1.80), (2012.755, 1.76),
    (2012.777, 2.31), (2012.796, 3.50), (2012.818, 3.25), (2012.849, 3.43), (2012.881, 3.21),
    (2012.912, 2.99), (2012.928, 3.18), (2012.943, 3.50), (2012.975, 3.54), (2012.990, 3.50),
    (2013.006, 3.54), (2013.022, 3.32), (2013.053, 3.39), (2013.084, 3.46), (2013.116, 3.57),
    (2013.132, 3.25), (2013.153, 3.39), (2013.172, 3.07), (2013.194, 3.32), (2013.216, 3.18),
    (2013.235, 3.43), (2013.257, 3.03), (2013.279, 3.46), (2013.304, 3.03), (2013.335, 2.81),
    (2013.367, 2.74), (2013.398, 2.71), (2013.429, 2.63), (2013.476, 2.52), (2013.523, 2.42),
    (2013.555, 2.23), (2013.602, 2.09), (2013.649, 1.95), (2013.696, 1.84), (2013.743, 1.78),
    (2013.790, 1.76), (2013.821, 1.80), (2013.837, 2.31), (2013.852, 3.32), (2013.868, 3.46),
    (2013.899, 3.21), (2013.931, 2.96), (2013.962, 2.85), (2013.981, 3.57), (2014.009, 3.54),
    (2014.041, 3.57), (2014.072, 3.50), (2014.103, 3.59), (2014.135, 3.54), (2014.166, 3.57),
    (2014.182, 3.39), (2014.213, 3.14), (2014.244, 3.10), (2014.276, 3.03), (2014.307, 2.81),
    (2014.338, 2.71), (2014.370, 2.63), (2014.417, 2.45), (2014.464, 2.27), (2014.511, 2.13),
    (2014.558, 2.02), (2014.589, 1.96), (2014.620, 2.05), (2014.652, 2.05), (2014.683, 2.00),
    (2014.714, 1.91), (2014.746, 1.84), (2014.777, 1.87), (2014.824, 1.91), (2014.840, 2.31),
    (2014.856, 3.21), (2014.871, 3.39), (2014.896, 3.32), (2014.918, 3.18), (2014.934, 2.99),
    (2014.956, 3.32), (2014.981, 3.18), (2015.003, 3.07), (2015.028, 3.39), (2015.053, 3.57),
    (2015.075, 3.39), (2015.097, 3.21), (2015.122, 3.54), (2015.147, 3.32), (2015.169, 3.54),
    (2015.200, 3.21), (2015.232, 3.03), (2015.263, 2.89), (2015.295, 2.78), (2015.326, 2.60),
    (2015.342, 3.50), (2015.373, 3.21), (2015.404, 2.81), (2015.436, 2.60), (2015.467, 2.49),
    (2015.498, 2.38), (2015.545, 2.23), (2015.576, 2.13), (2015.608, 2.02), (2015.639, 1.93),
    (2015.671, 2.09), (2015.702, 2.13), (2015.715, 2.20), (2015.746, 2.13), (2015.778, 2.31),
    (2015.809, 2.23), (2015.840, 2.20), (2015.872, 2.20), (2015.903, 2.42), (2015.934, 2.49),
    (2015.966, 2.67), (2015.997, 2.74), (2016.013, 3.57), (2016.029, 3.46), (2016.050, 3.32),
    (2016.069, 3.50), (2016.091, 3.39), (2016.107, 3.61), (2016.129, 3.32), (2016.154, 3.50),
    (2016.179, 3.21), (2016.201, 3.54), (2016.223, 3.07), (2016.248, 3.43), (2016.279, 3.03),
    (2016.311, 2.81), (2016.342, 2.63), (2016.373, 2.52), (2016.389, 2.49), (2016.405, 3.10),
    (2016.430, 2.74), (2016.452, 2.89), (2016.474, 2.71), (2016.499, 2.74), (2016.530, 2.60),
    (2016.561, 2.45), (2016.593, 2.34), (2016.624, 2.20), (2016.656, 2.09), (2016.702, 1.95),
    (2016.749, 1.84), (2016.797, 1.78), (2016.844, 1.75), (2016.875, 1.75), (2016.891, 2.13),
    (2016.906, 2.38), (2016.938, 2.42), (2016.953, 2.34), (2016.985, 2.42), (2017.032, 2.49),
    (2017.079, 2.51), (2017.094, 3.32), (2017.119, 3.21), (2017.141, 3.03), (2017.157, 3.25),
    (2017.179, 3.32), (2017.204, 3.21), (2017.235, 3.03), (2017.267, 2.81), (2017.314, 2.60),
    (2017.361, 2.42), (2017.408, 2.27), (2017.471, 2.09), (2017.533, 1.95), (2017.596, 1.84),
    (2017.659, 1.76), (2017.721, 1.73), (2017.784, 1.69), (2017.847, 1.67), (2017.909, 1.66),
    (2017.941, 1.69), (2017.956, 2.23), (2017.972, 2.56), (2017.988, 2.85), (2018.010, 3.39),
    (2018.035, 3.43), (2018.060, 3.32), (2018.082, 3.46), (2018.104, 3.32), (2018.129, 3.50),
    (2018.154, 3.25), (2018.176, 3.36), (2018.198, 3.18), (2018.223, 3.10), (2018.242, 3.54),
    (2018.270, 3.50), (2018.292, 3.10), (2018.323, 2.92), (2018.348, 2.71), (2018.380, 2.56),
    (2018.411, 2.45), (2018.436, 2.38), (2018.458, 2.71), (2018.474, 2.63), (2018.489, 2.49),
    (2018.505, 2.78), (2018.530, 2.49), (2018.552, 2.31), (2018.584, 2.16), (2018.631, 2.02),
    (2018.678, 1.91), (2018.724, 1.80), (2018.771, 1.73), (2018.818, 1.67), (2018.850, 1.64),
    (2018.881, 1.69), (2018.897, 1.76), (2018.913, 2.67), (2018.928, 3.18), (2018.950, 3.43),
    (2018.975, 3.54), (2019.007, 3.32), (2019.038, 3.10), (2019.069, 2.99), (2019.100, 3.32),
    (2019.116, 3.50), (2019.138, 3.21), (2019.163, 3.03), (2019.178, 3.39), (2019.194, 3.18),
    (2019.225, 3.03), (2019.257, 2.81), (2019.288, 2.67), (2019.319, 2.56), (2019.366, 2.45),
    (2019.414, 2.34), (2019.461, 2.31), (2019.508, 2.20), (2019.555, 2.05), (2019.602, 1.91),
    (2019.649, 1.80), (2019.696, 1.73), (2019.743, 1.66), (2019.783, 1.64), (2019.805, 1.84),
    (2019.827, 2.13), (2019.837, 2.67), (2019.852, 3.39), (2019.877, 3.43), (2019.899, 3.57),
    (2019.921, 3.39), (2019.946, 3.54), (2019.971, 3.36), (2019.993, 3.54), (2020.016, 3.32),
    (2020.041, 3.46), (2020.066, 3.39), (2020.088, 3.57), (2020.110, 3.36), (2020.135, 3.54),
    (2020.160, 3.39), (2020.182, 3.61), (2020.204, 3.32), (2020.229, 3.10), (2020.260, 2.89),
    (2020.291, 2.78), (2020.323, 2.74), (2020.354, 2.85), (2020.385, 2.67), (2020.417, 2.49),
    (2020.439, 2.38), (2020.457, 2.89), (2020.480, 2.74), (2020.511, 2.56), (2020.542, 2.38),
    (2020.574, 2.23), (2020.605, 2.09), (2020.636, 2.02), (2020.668, 1.95), (2020.699, 1.87),
    (2020.737, 1.82), (2020.762, 2.09), (2020.793, 2.13), (2020.818, 2.16), (2020.840, 2.67),
    (2020.856, 3.03), (2020.878, 3.39), (2020.903, 3.03), (2020.925, 3.54), (2020.950, 3.39),
    (2020.965, 3.21), (2020.987, 3.54), (2021.012, 3.54), (2021.038, 3.32), (2021.059, 3.50),
    (2021.081, 3.57), (2021.100, 3.61), (2021.122, 3.46), (2021.144, 3.32), (2021.169, 3.10),
    (2021.200, 2.89), (2021.232, 2.74), (2021.263, 2.60), (2021.294, 2.45), (2021.326, 2.34),
    (2021.373, 2.27), (2021.420, 2.23), (2021.451, 2.18), (2021.467, 2.85), (2021.483, 2.71),
    (2021.514, 2.60), (2021.545, 2.52), (2021.577, 2.42), (2021.608, 2.31), (2021.639, 2.20),
    (2021.671, 2.13), (2021.702, 2.02), (2021.733, 1.91), (2021.755, 1.87), (2021.765, 2.81),
    (2021.796, 2.60), (2021.812, 2.45), (2021.827, 2.49), (2021.843, 2.60), (2021.859, 2.45),
    (2021.890, 2.45), (2021.922, 2.42), (2021.937, 3.25), (2021.953, 3.03), (2021.969, 2.85),
    (2021.984, 3.25), (2021.998, 3.61),
]

# ---------------- helpers ----------------
def to_date(t):
    yi = int(np.floor(t))
    frac = t - yi
    start = pd.Timestamp(year=yi, month=1, day=1)
    end = pd.Timestamp(year=yi + 1, month=1, day=1)
    return (start + (end - start) * frac).strftime("%Y-%m-%dT%H:%M:%S")


def frame(pairs, name):
    return pd.DataFrame({"date": [to_date(p[0]) for p in pairs],
                         "v": [p[1] for p in pairs],
                         "series": name})


GRID = "#A6A6A6"
TITLE_FONT = "Liberation Sans"
TICK_FONT = "DejaVu Sans"
LEG_FONT = "Liberation Sans"

x_enc = alt.X(
    "date:T",
    scale=alt.Scale(domain=[alt.DateTime(year=2009, month=1, date=1),
                            alt.DateTime(year=2022, month=1, date=1)]),
    axis=alt.Axis(
        values=[alt.DateTime(year=y, month=1, date=1) for y in YEARS[:-1]],
        labelExpr="'janv.-' + timeFormat(datum.value, '%y')",
        grid=True, gridColor=GRID, gridWidth=1, ticks=False,
        domainColor=GRID, labelPadding=12, labelFont=TICK_FONT,
        labelFontSize=12, labelFontWeight="bold", labelColor="black",
        title=None, labelOverlap=False, labelFlush=False, labelAlign="center",
    ),
)

left_axis = alt.Axis(
    orient="left", values=LEFT_TICKS, grid=True, gridColor=GRID, gridWidth=1,
    ticks=False, domainColor=GRID, labelPadding=18, labelFont=TICK_FONT,
    labelFontSize=13, labelFontWeight="bold", labelColor="black",
    title=LEFT_TITLE, titleFont=TITLE_FONT, titleFontSize=19, titleFontWeight="normal",
    titleColor="black", titleAngle=270, titleX=-70, titleY=428,
    titleBaseline="middle", titleAlign="center",
)
right_axis = alt.Axis(
    orient="right", values=RIGHT_TICKS, format=".1f", grid=False, ticks=True,
    tickSize=5, tickColor=GRID, domainColor=GRID, labelPadding=13,
    labelFont=TICK_FONT, labelFontSize=13, labelFontWeight="bold", labelColor="black",
    title=RIGHT_TITLE, titleFont=TITLE_FONT, titleFontSize=19, titleFontWeight="normal",
    titleColor="black", titleAngle=270, titleX=71, titleY=428,
    titleBaseline="middle", titleAlign="center",
)

legend = alt.Legend(
    orient="none", legendX=20, legendY=893, columns=3, columnPadding=186,
    direction="horizontal",
    rowPadding=6, gridAlign="all", symbolType="M-2,0L2,0", symbolSize=306,
    symbolStrokeWidth=3, labelOffset=10, labelFont=LEG_FONT, labelFontSize=16,
    labelFontWeight="bold", labelColor="black", labelLimit=600, title=None, padding=0,
)

color_enc = alt.Color("series:N", scale=alt.Scale(domain=NAMES, range=COLORS), legend=legend)

left_y = alt.Y("v:Q", scale=alt.Scale(domain=[24, 36], nice=False, zero=False), axis=left_axis)
right_y = alt.Y("v:Q", scale=alt.Scale(domain=[0, 5.5], nice=False, zero=False), axis=right_axis)


def line(pairs, name, y, width):
    return alt.Chart(frame(pairs, name)).mark_line(
        strokeWidth=width, strokeJoin="round", strokeCap="round"
    ).encode(x=x_enc, y=y, color=color_enc)


dummy = pd.DataFrame({"k": [0]})
outer_frame = alt.Chart(dummy).mark_rect(
    fill="transparent", stroke="#D0D0D0", strokeWidth=3
).encode(x=alt.value(-103.5), x2=alt.value(1486.5), y=alt.value(-15.3), y2=alt.value(960))
legend_box = alt.Chart(dummy).mark_rect(
    fill="transparent", stroke="#303030", strokeWidth=1.5
).encode(x=alt.value(-85.5), x2=alt.value(1482.5), y=alt.value(889.7), y2=alt.value(936.5))

left_group = alt.layer(
    outer_frame, legend_box,
    line(red, NAMES[0], left_y, 3),
    line(purple, NAMES[1], left_y, 2),
    line(gray, NAMES[2], left_y, 3),
    line(orange, NAMES[3], left_y, 2),
)
right_group = alt.layer(
    line(blue, NAMES[4], right_y, 3),
    line(green, NAMES[5], right_y, 3),
)

chart = alt.layer(left_group, right_group).resolve_scale(y="independent").properties(
    width=1383, height=844,
    autosize=alt.AutoSizeParams(type="none"),
    padding={"left": 107.5, "top": 16.3, "right": 104, "bottom": 93.5},
    background="white",
).configure_view(stroke=GRID, strokeWidth=1)

chart.save("out.html", embed_options={"renderer": "svg", "actions": False})
